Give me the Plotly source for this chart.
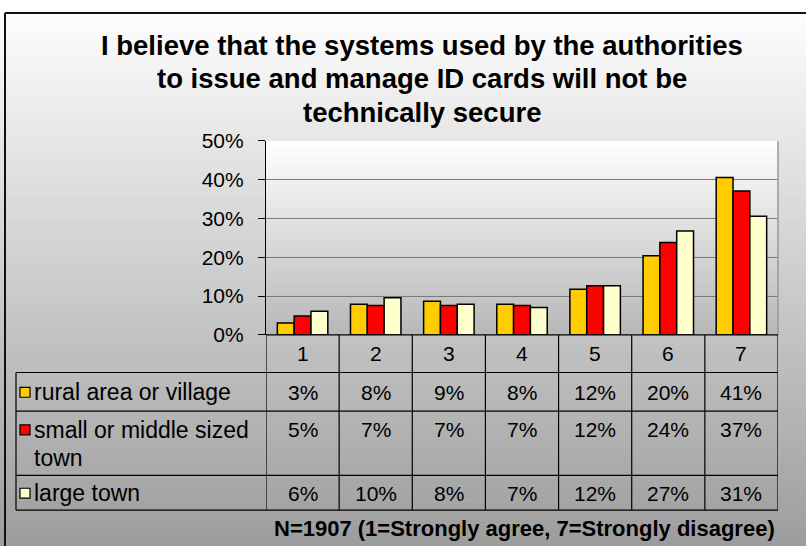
import plotly.graph_objects as go

# data
categories = ["1", "2", "3", "4", "5", "6", "7"]
series_names = ["rural area or village", "small or middle sized town", "large town"]
rural = [0.031, 0.079, 0.087, 0.079, 0.118, 0.204, 0.406]
small_town = [0.049, 0.076, 0.076, 0.076, 0.127, 0.238, 0.371]
large_town = [0.061, 0.096, 0.079, 0.071, 0.127, 0.268, 0.306]
# the data table under the chart shows rounded figures
rural_txt = ["3%", "8%", "9%", "8%", "12%", "20%", "41%"]
small_txt = ["5%", "7%", "7%", "7%", "12%", "24%", "37%"]
large_txt = ["6%", "10%", "8%", "7%", "12%", "27%", "31%"]

colors = ["#FFCC00", "#FF0000", "#FFFFCC"]
title_lines = ["I believe that the systems used by the authorities",
               "to issue and manage ID cards will not be",
               "technically secure"]
note = "N=1907 (1=Strongly agree, 7=Strongly disagree)"

W, H = 806, 557
FONT = "Liberation Sans, Arial, sans-serif"
# the captured page comes out squeezed a little vertically around its middle,
# so positions taken off the reference are stretched back out by this factor
SQ = 0.969
MID = 278

def px(x):
    return x / W

def py(y):
    yf = MID + (y - MID) / SQ
    return min(1, max(0, 1 - yf / H))

# plot area in pixels (reference coordinates)
PL, PR, PT, PB = 266, 778, 139, 335

fig = go.Figure()
for name, vals, col in zip(series_names, [rural, small_town, large_town], colors):
    fig.add_trace(go.Bar(x=categories, y=vals, name=name, marker_color=col,
                         marker_line=dict(color="black", width=1.5)))

shapes = []
# chart background gradient (white -> grey)
n = 120
top, bot = -12, 570
for i in range(n):
    y0 = top + i * (bot - top) / n
    y1 = top + (i + 1) * (bot - top) / n + 0.6
    g = int(round(255 - 100 * min(max((y0 + y1) / 2, 0), H) / H))
    shapes.append(dict(type="rect", xref="paper", yref="paper", x0=0, x1=1,
                       y0=py(y1), y1=py(y0), line_width=0,
                       fillcolor=f"rgb({g},{g},{g})", layer="below"))
# plot area gradient
n = 49
for i in range(n):
    y0 = PT + i * (PB - PT) / n
    y1 = PT + (i + 1) * (PB - PT) / n + 0.6
    g = int(round(255 - 72 * ((y0 + y1) / 2 - PT) / (PB - PT)))
    shapes.append(dict(type="rect", xref="paper", yref="paper", x0=px(PL), x1=px(PR),
                       y0=py(min(y1, PB)), y1=py(y0), line_width=0,
                       fillcolor=f"rgb({g},{g},{g})", layer="below"))

# outer frame (only left and top visible)
frame_top = 1 - 1 / H
shapes.append(dict(type="line", xref="paper", yref="paper", x0=px(5), x1=px(5),
                   y0=0, y1=frame_top, line=dict(color="#111", width=2)))
shapes.append(dict(type="line", xref="paper", yref="paper", x0=px(5), x1=1,
                   y0=frame_top, y1=frame_top, line=dict(color="#111", width=2)))
# plot area right edge
shapes.append(dict(type="line", xref="paper", yref="paper", x0=px(PR), x1=px(PR),
                   y0=py(PB), y1=py(PT), line=dict(color="#999", width=1.5)))

# data table grid
row_y = [335, 373, 412, 477, 512]
TL = 16
for k, y in enumerate(row_y):
    x0 = px(PL) if k == 0 else px(TL)
    shapes.append(dict(type="line", xref="paper", yref="paper", x0=x0, x1=px(PR),
                       y0=py(y), y1=py(y), line=dict(color="black", width=1.2)))
shapes.append(dict(type="line", xref="paper", yref="paper", x0=px(TL), x1=px(TL),
                   y0=py(512), y1=py(373), line=dict(color="black", width=1.2)))
for k in range(len(categories) + 1):
    shapes.append(dict(type="line", xref="x", yref="paper", x0=k - 0.5, x1=k - 0.5,
                       y0=py(512), y1=py(335), line=dict(color="black", width=1.2)))

annotations = []
for j, line in enumerate(title_lines):
    annotations.append(dict(text="<b>" + line + "</b>", xref="paper", yref="paper",
                            x=px(422), y=py(42 + 34 * j), xanchor="center", yanchor="middle",
                            showarrow=False, font=dict(size=27.5, color="black", family=FONT)))
annotations.append(dict(text="<b>" + note + "</b>", xref="paper", yref="paper", x=px(524), y=py(531),
                        xanchor="center", yanchor="middle", showarrow=False,
                        font=dict(size=22, color="black", family=FONT)))
# header row of category numbers
for i, c in enumerate(categories):
    annotations.append(dict(text=c, xref="x", yref="paper", x=i, y=py(354),
                            xanchor="center", yanchor="middle", showarrow=False,
                            font=dict(size=21, color="black", family=FONT)))

row_text = [rural_txt, small_txt, large_txt]
row_label_lines = [["rural area or village"], ["small or middle sized", "town"], ["large town"]]
row_centre = [393, 431, 495]
for r in range(3):
    yc = row_centre[r]
    for i, t in enumerate(row_text[r]):
        annotations.append(dict(text=t, xref="x", yref="paper", x=i, y=py(yc),
                                xanchor="center", yanchor="middle", showarrow=False,
                                font=dict(size=21, color="black", family=FONT)))
    for j, line in enumerate(row_label_lines[r]):
        annotations.append(dict(text=line, xref="paper", yref="paper", x=px(32), y=py(yc + 28 * j),
                                xanchor="left", yanchor="middle", showarrow=False,
                                font=dict(size=23, color="black", family=FONT)))
    # legend key
    shapes.append(dict(type="rect", xref="paper", yref="paper", x0=px(20), x1=px(30),
                       y0=py(yc + 5), y1=py(yc - 5), fillcolor=colors[r],
                       line=dict(color="black", width=1.2)))

fig.update_layout(
    width=W, height=H,
    margin=dict(l=0, r=0, t=0, b=0),
    paper_bgcolor="white", plot_bgcolor="rgba(0,0,0,0)",
    showlegend=False,
    barmode="group", bargap=0.31, bargroupgap=0,
    font=dict(family=FONT, color="black"),
    shapes=shapes, annotations=annotations,
    xaxis=dict(domain=[px(PL), px(PR)], range=[-0.5, 6.5], showticklabels=False,
               showgrid=False, zeroline=False, showline=False, ticks=""),
    yaxis=dict(domain=[py(PB), py(PT)], range=[0, 0.5], dtick=0.1, tickformat=".0%",
               showgrid=True, gridcolor="#7a7a7a", gridwidth=1,
               zeroline=False, showline=True, linecolor="black", linewidth=1.2,
               ticks="outside", ticklen=7, tickcolor="black", ticklabelstandoff=10,
               tickfont=dict(size=21, color="black", family=FONT)),
)

# strip the default page margins; page background white above, grey below
page_css = (
    "var s=document.documentElement.style;s.margin='0';s.padding='0';s.overflow='hidden';"
    "s.background='linear-gradient(#ffffff 0%,#ffffff 50%,#9c9c9c 50%,#9c9c9c 100%)';"
    "var b=document.body.style;b.margin='0';b.padding='0';b.overflow='hidden';"
)
fig.write_html("out.html", config={"displayModeBar": False}, post_script=page_css)
